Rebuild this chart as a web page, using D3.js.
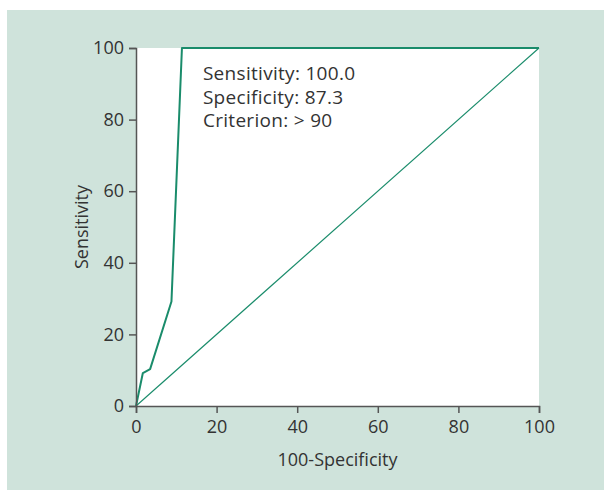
<!DOCTYPE html>
<html>
<head>
<meta charset="utf-8">
<script src="https://cdn.jsdelivr.net/npm/d3@7"></script>
<style>
  body { margin: 0; background: #fff; }
  text { font-family: "Open Sans", sans-serif; fill: #333; }
</style>
</head>
<body>
<div id="viz"></div>
<script>
// ROC curve points (100-Specificity, Sensitivity)
const rocX = [0, 1.7, 3.5, 8.8, 11.4, 100];
const rocY = [0, 9.2, 10.3, 29.2, 100, 100];
// reference line
const refX = [0, 100];
const refY = [0, 100];
const ticks = [0, 20, 40, 60, 80, 100];
const notes = ["Sensitivity: 100.0", "Specificity: 87.3", "Criterion: > 90"];

let width = 604;
let height = 490;
let margin = ({ top: 48, right: 65, bottom: 84, left: 136 });

const svg = d3.select("#viz")
    .append("svg")
    .attr("width", width)
    .attr("height", height);

// panel background
svg.append("rect")
    .attr("x", 7).attr("y", 10)
    .attr("width", width - 7).attr("height", height - 10)
    .attr("fill", "#cfe3db");

const x = d3.scaleLinear().domain([0, 100]).range([margin.left, width - margin.right]);
const y = d3.scaleLinear().domain([0, 100]).range([height - margin.bottom, margin.top]);

svg.append("rect")
    .attr("x", x(0)).attr("y", y(100))
    .attr("width", x(100) - x(0)).attr("height", y(0) - y(100))
    .attr("fill", "#fff");

const line = d3.line().x(d => x(d[0])).y(d => y(d[1]));

svg.append("path")
    .datum(d3.zip(refX, refY))
    .attr("fill", "none")
    .attr("stroke", "#1a8c6b")
    .attr("stroke-width", 1.2)
    .attr("d", line);

svg.append("path")
    .datum(d3.zip(rocX, rocY))
    .attr("fill", "none")
    .attr("stroke", "#1a8c6b")
    .attr("stroke-width", 2)
    .attr("stroke-linejoin", "round")
    .attr("d", line);

const xAxis = svg.append("g")
    .attr("transform", `translate(0,${y(0)})`)
    .call(d3.axisBottom(x).tickValues(ticks).tickSize(7).tickPadding(7));

const yAxis = svg.append("g")
    .attr("transform", `translate(${x(0)},0)`)
    .call(d3.axisLeft(y).tickValues(ticks).tickSize(7).tickPadding(5));

[xAxis, yAxis].forEach(a => {
    a.selectAll("path, line").attr("stroke", "#555").attr("stroke-width", 1.5);
    a.selectAll("text")
        .attr("font-family", "'Open Sans', sans-serif")
        .attr("font-size", 18)
        .attr("fill", "#333");
});

svg.append("text")
    .attr("x", (x(0) + x(100)) / 2)
    .attr("y", 466)
    .attr("text-anchor", "middle")
    .attr("font-size", 18)
    .text("100-Specificity");

svg.append("text")
    .attr("transform", `translate(88,${(y(0) + y(100)) / 2}) rotate(-90)`)
    .attr("text-anchor", "middle")
    .attr("font-size", 18)
    .text("Sensitivity");

svg.append("g")
    .selectAll("text")
    .data(notes)
    .enter().append("text")
    .attr("x", x(16.6))
    .attr("y", (d, i) => 80 + i * 23.5)
    .attr("font-size", 19)
    .attr("letter-spacing", 0.3)
    .text(d => d);
</script>
</body>
</html>
